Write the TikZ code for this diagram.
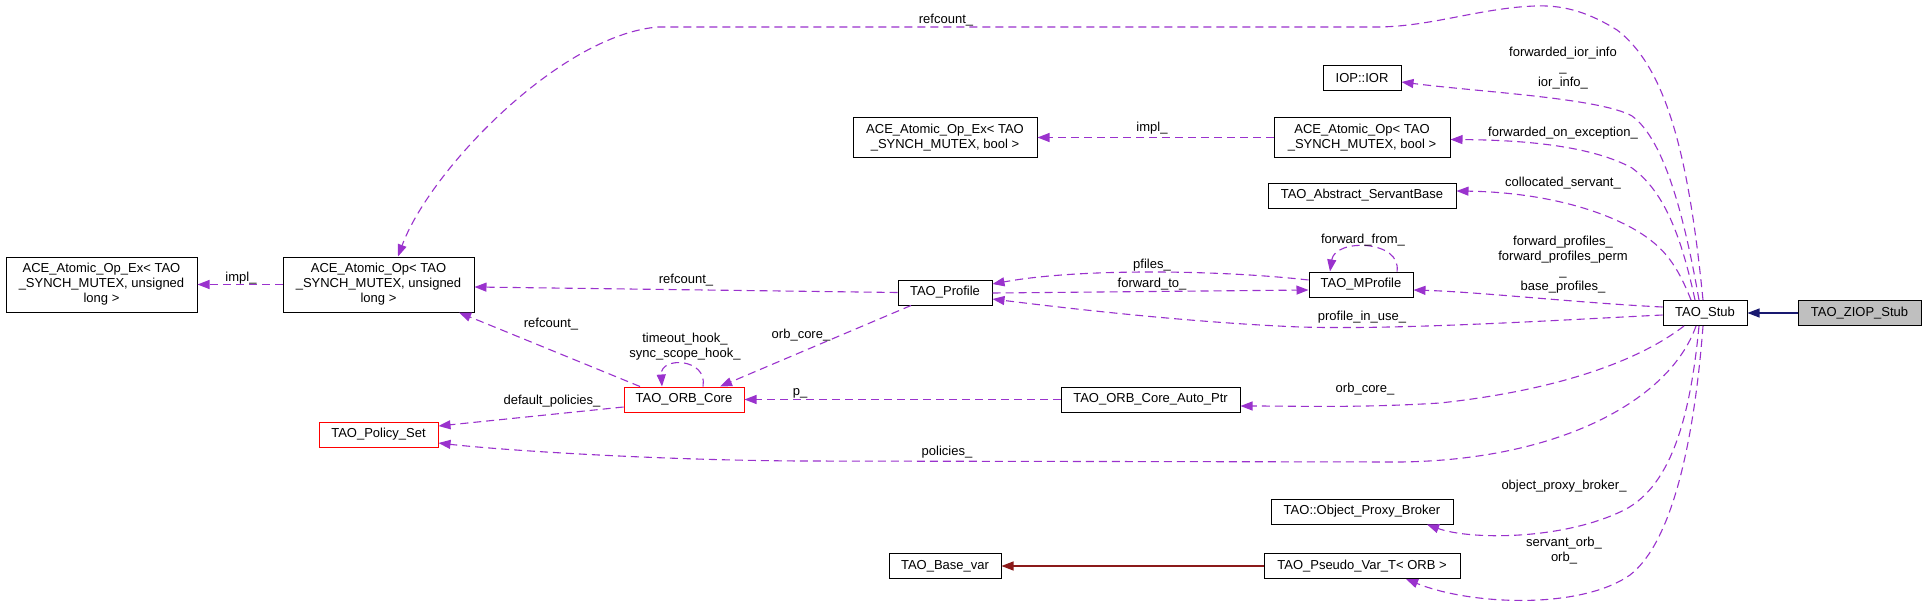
\documentclass[tikz,border=0pt]{standalone}
\usepackage{fontspec}
\setmainfont{Liberation Sans}
\usetikzlibrary{arrows.meta}
\definecolor{depc}{HTML}{9A32CD}
\definecolor{inhblue}{HTML}{191970}
\definecolor{inhred}{HTML}{8B1A1A}
\definecolor{gfill}{HTML}{BFBFBF}
\begin{document}
\begin{tikzpicture}[x=1pt,y=-1pt,
  box/.style={draw=black, line width=1pt, inner sep=0pt, align=center, fill=white,
    font=\fontsize{13}{15}\selectfont, minimum height=25pt},
  redbox/.style={box, draw=red},
  dep/.style={draw=depc, line width=1.1pt, dash pattern=on 8pt off 5pt,
    -{Triangle[length=12pt,width=9pt]}},
  inhb/.style={draw=inhblue, line width=1.1pt, -{Triangle[length=12pt,width=9pt]}},
  inhr/.style={draw=inhred, line width=1.1pt, -{Triangle[length=12pt,width=9pt]}},
  lbl/.style={font=\fontsize{13}{15}\selectfont, align=center, inner sep=0pt}
]
\useasboundingbox[fill=white] (0,0) rectangle (1923,605);

% nodes
\node[box, minimum width=191pt, minimum height=55pt] (exUL) at (101.5,284.5)
  {ACE\_Atomic\_Op\_Ex< TAO\\\_SYNCH\_MUTEX, unsigned\\long >};
\node[box, minimum width=191pt, minimum height=55pt] (opUL) at (378.5,284.5)
  {ACE\_Atomic\_Op< TAO\\\_SYNCH\_MUTEX, unsigned\\long >};
\node[redbox, minimum width=119pt] (policy) at (378.5,434.5) {TAO\_Policy\_Set};
\node[redbox, minimum width=120pt] (orbcore) at (684,399.5) {TAO\_ORB\_Core};
\node[box, minimum width=94pt] (profile) at (945,292.5) {TAO\_Profile};
\node[box, minimum width=179pt] (autoptr) at (1150.5,399.5) {TAO\_ORB\_Core\_Auto\_Ptr};
\node[box, minimum width=112pt] (basevar) at (945,566) {TAO\_Base\_var};
\node[box, minimum width=184pt, minimum height=40pt] (exBool) at (945,137.5)
  {ACE\_Atomic\_Op\_Ex< TAO\\\_SYNCH\_MUTEX, bool >};
\node[box, minimum width=176pt, minimum height=40pt] (opBool) at (1362,137.5)
  {ACE\_Atomic\_Op< TAO\\\_SYNCH\_MUTEX, bool >};
\node[box, minimum width=78pt] (ior) at (1362,78) {IOP::IOR};
\node[box, minimum width=188pt] (servant) at (1362,195.5) {TAO\_Abstract\_ServantBase};
\node[box, minimum width=104pt] (mprofile) at (1361,284.5) {TAO\_MProfile};
\node[box, minimum width=182pt] (opb) at (1362,511.5) {TAO::Object\_Proxy\_Broker};
\node[box, minimum width=196pt] (pseudo) at (1362,566) {TAO\_Pseudo\_Var\_T< ORB >};
\node[box, minimum width=84pt] (stub) at (1705,313) {TAO\_Stub};
\node[box, minimum width=123pt, fill=gfill] (ziop) at (1859.5,313) {TAO\_ZIOP\_Stub};

% inheritance
\draw[inhb] (ziop) -- (stub);
\draw[inhr] (pseudo) -- (basevar);

% edges from TAO_Stub
\draw[dep] ([xshift=-2pt]stub.north) .. controls (1690,170) and (1670,70) .. (1617,30)
  .. controls (1585,10) and (1560,5) .. (1535,6)
  .. controls (1480,8) and (1430,27) .. (1376,27) -- (658,27)
  .. controls (560,35) and (430,170) .. ([xshift=19.5pt]opUL.north);
\node[lbl] (lref1) at (946,20) {refcount\_};

\draw[dep] ([xshift=-6pt]stub.north) .. controls (1685,220) and (1665,140) .. (1632,116)
  .. controls (1600,98) and (1480,92) .. ([yshift=-4pt]ior.east);
\node[lbl] (lior) at (1563,68) {forwarded\_ior\_info\\\_\\ior\_info\_};

\draw[dep] ([xshift=-10pt]stub.north) .. controls (1680,230) and (1662,190) .. (1632,168)
  .. controls (1590,145) and (1520,140) .. ([yshift=-2pt]opBool.east);
\node[lbl] (lfoe) at (1563,133) {forwarded\_on\_exception\_};

\draw[dep] ([xshift=-14pt]stub.north) .. controls (1676,262) and (1662,245) .. (1632,228)
  .. controls (1590,205) and (1530,192) .. ([yshift=4.5pt]servant.east);
\node[lbl] (lcol) at (1563,183) {collocated\_servant\_};

\draw[dep] ([yshift=6pt]stub.west) .. controls (1580,303) and (1480,292) .. ([yshift=-5.5pt]mprofile.east);
\node[lbl] (lbase) at (1563,265) {forward\_profiles\_\\forward\_profiles\_perm\\\_\\base\_profiles\_};

\draw[dep] ([yshift=-2pt]stub.west) .. controls (1560,320) and (1400,330) .. (1300,327)
  .. controls (1200,323) and (1080,310) .. ([yshift=-6.5pt]profile.east);
\node[lbl] (liu) at (1362,317) {profile\_in\_use\_};

\draw[dep] ([xshift=-21pt]stub.south) .. controls (1640,360) and (1560,390) .. (1440,403)
  .. controls (1360,408) and (1300,406) .. ([yshift=-6.5pt]autoptr.east);
\node[lbl] (lorb2) at (1365,389) {orb\_core\_};

\draw[dep] ([xshift=-9pt]stub.south) .. controls (1670,400) and (1560,460) .. (1400,462)
  -- (800,461) .. controls (650,460) and (500,450) .. ([yshift=-8.5pt]policy.east);
\node[lbl] (lpol) at (947,452) {policies\_};

\draw[dep] ([xshift=-6pt]stub.south) .. controls (1690,420) and (1670,490) .. (1620,512)
  .. controls (1560,540) and (1470,540) .. ([xshift=65pt]opb.south);
\node[lbl] (lopb) at (1564,486) {object\_proxy\_broker\_};

\draw[dep] ([xshift=-2pt]stub.south) .. controls (1695,430) and (1675,540) .. (1630,575)
  .. controls (1580,610) and (1470,605) .. ([xshift=44pt]pseudo.south);
\node[lbl] (lsorb) at (1564,551) {servant\_orb\_\\orb\_};

% other edges
\draw[dep] (opUL) -- (exUL);
\node[lbl] (limpl1) at (241,278) {impl\_};

\draw[dep] (opBool) -- (exBool);
\node[lbl] (limpl2) at (1152,128) {impl\_};

\draw[dep] (profile.west) -- ([yshift=-2.5pt]opUL.east);
\node[lbl] (lref2) at (686,280) {refcount\_};

\draw[dep] ([xshift=-44pt]orbcore.north) -- ([xshift=80.5pt]opUL.south);
\node[lbl] (lref3) at (551,324) {refcount\_};

\draw[dep] ([xshift=-34pt]profile.south) -- ([xshift=36pt]orbcore.north);
\node[lbl] (lorb1) at (801,335) {orb\_core\_};

\draw[dep] ([xshift=19pt]orbcore.north) .. controls (708,358) and (660,356) .. ([xshift=-22pt]orbcore.north);
\node[lbl] (lhook) at (685,347) {timeout\_hook\_\\sync\_scope\_hook\_};

\draw[dep] ([yshift=-7.5pt]orbcore.west) -- ([yshift=8.5pt]policy.east);
\node[lbl] (ldef) at (552,401) {default\_policies\_};

\draw[dep] (autoptr.west) -- (orbcore.east);
\node[lbl] (lp) at (800,393) {p\_};

\draw[dep] ([yshift=4.5pt]mprofile.west) .. controls (1220,270) and (1080,268) .. ([yshift=8.5pt]profile.east);
\node[lbl] (lpf) at (1152,265) {pfiles\_};

\draw[dep] ([yshift=-0.5pt]profile.east) -- ([yshift=-5.5pt]mprofile.west);
\node[lbl] (lft) at (1152,284) {forward\_to\_};

\draw[dep] ([xshift=36pt]mprofile.north) .. controls (1402,240) and (1335,238) .. ([xshift=-31pt]mprofile.north);
\node[lbl] (lff) at (1363,240) {forward\_from\_};
\end{tikzpicture}
\end{document}
